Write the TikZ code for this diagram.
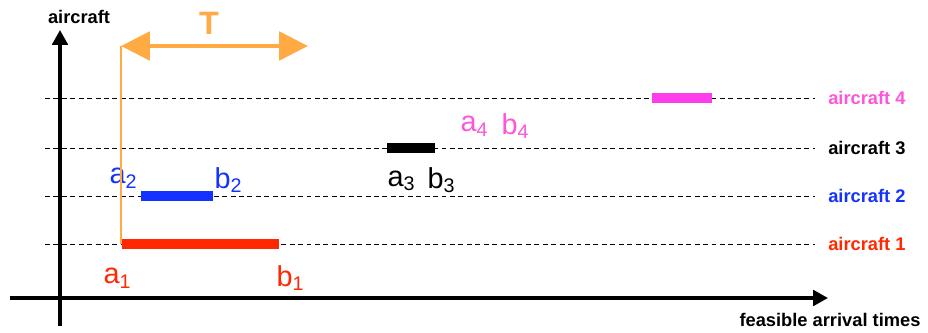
\documentclass[tikz,border=0pt]{standalone}
\usepackage{fontspec}
\setmainfont{Liberation Sans}
\usetikzlibrary{arrows.meta}

\definecolor{acred}{RGB}{255,40,0}
\definecolor{acblue}{RGB}{20,50,255}
\definecolor{acpink}{RGB}{255,60,235}
\definecolor{acpinktxt}{RGB}{255,85,215}
\definecolor{acorange}{RGB}{255,170,66}

\newcommand{\ix}[1]{\raisebox{-0.3ex}{\fontsize{14}{14}\selectfont #1}}

\begin{document}
\begin{tikzpicture}[
  x=0.025cm, y=-0.025cm,
  axis/.style={line width=2.3pt, -{Triangle[length=10.5pt, width=11pt]}},
  lane/.style={dash pattern=on 3.5pt off 2.5pt, line width=0.7pt},
  bar/.style={line width=7.6pt},
  lane label/.style={font=\fontsize{13}{15}\selectfont\bfseries, anchor=west, inner sep=0pt},
  bound/.style={font=\fontsize{20.5}{22}\selectfont, inner sep=0pt},
]
\useasboundingbox (0,0) rectangle (928,333);

% === AXES ===
\coordinate (yfoot) at (60,326);
\coordinate (ytop) at (60,30);
\coordinate (xfoot) at (10,298);
\coordinate (xtop) at (828,298);
\draw[axis] (yfoot) -- (ytop);
\draw[axis] (xfoot) -- (xtop);
\node[font=\fontsize{13}{15}\selectfont\bfseries, inner sep=0pt] (ylab) at (79,17) {aircraft};
\node[font=\fontsize{13}{15}\selectfont\bfseries, inner sep=0pt] (xlab) at (830,320) {feasible arrival times};

% === AIRCRAFT LANES ===
\foreach \k/\y in {1/244, 2/196, 3/148, 4/98} {
  \coordinate (l\k) at (45,\y);
  \coordinate (r\k) at (815,\y);
  \draw[lane] (l\k) -- (r\k);
}
\node[lane label, text=acred] (ac1) at (828,244) {aircraft 1};
\node[lane label, text=acblue] (ac2) at (828,196) {aircraft 2};
\node[lane label, text=black] (ac3) at (828,148) {aircraft 3};
\node[lane label, text=acpinktxt] (ac4) at (828,98) {aircraft 4};

% === TIME WINDOWS ===
\coordinate (w1a) at (122,244); \coordinate (w1b) at (279,244);
\coordinate (w2a) at (141,196); \coordinate (w2b) at (213,196);
\coordinate (w3a) at (387,148); \coordinate (w3b) at (435,148);
\coordinate (w4a) at (652,98);  \coordinate (w4b) at (712,98);
\draw[bar, acred] (w1a) -- (w1b);
\draw[bar, acblue] (w2a) -- (w2b);
\draw[bar, black] (w3a) -- (w3b);
\draw[bar, acpink] (w4a) -- (w4b);

\node[bound, text=acred] (a1) at (117,278) {a\ix{1}};
\node[bound, text=acred] (b1) at (290,278) {b\ix{1}};
\node[bound, text=acblue] (a2) at (123,178) {a\ix{2}};
\node[bound, text=acblue] (b2) at (228,180) {b\ix{2}};
\node[bound, text=black] (a3) at (401,181) {a\ix{3}};
\node[bound, text=black] (b3) at (441,180) {b\ix{3}};
\node[bound, text=acpinktxt] (a4) at (474,126) {a\ix{4}};
\node[bound, text=acpinktxt] (b4) at (515,126) {b\ix{4}};

% === HORIZON T ===
\coordinate (t0) at (121,244);
\coordinate (tl) at (121,46);
\coordinate (tr) at (308,46);
\draw[acorange, line width=1pt] (t0) -- (tl);
\draw[acorange, line width=3.4pt, {Triangle[length=20.5pt, width=20pt]}-{Triangle[length=20.5pt, width=20pt]}] (tl) -- (tr);
\node[font=\fontsize{23}{25}\selectfont\bfseries, text=acorange, inner sep=0pt] (T) at (209,23) {T};
\end{tikzpicture}
\end{document}
